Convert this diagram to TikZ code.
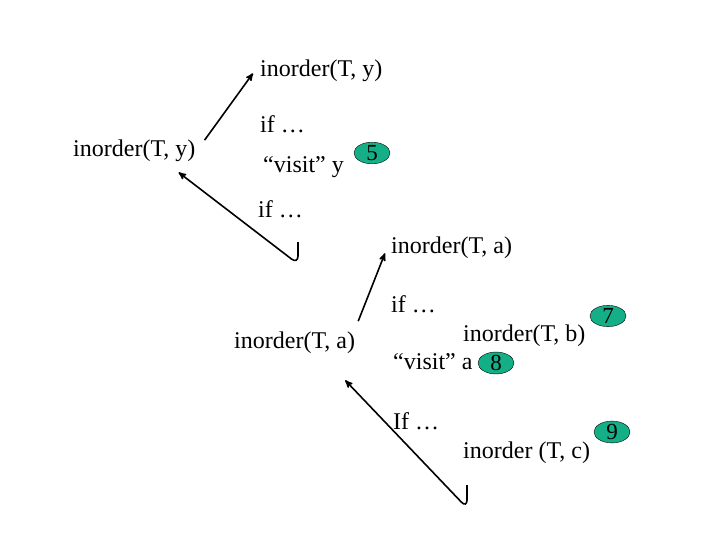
\documentclass[tikz,border=0pt]{standalone}
\usepackage{fontspec}
\setmainfont{Liberation Serif}
\usetikzlibrary{arrows,shapes.geometric}
\definecolor{visitgreen}{RGB}{20,175,135}

\begin{document}
\begin{tikzpicture}[x=1pt,y=-1pt]
			\tikzstyle{code} = [
				anchor = base west, inner sep = 0pt,
				font = \fontsize{24}{28}\selectfont
			]
			\tikzstyle{visit} = [
				ellipse, draw = black, fill = visitgreen, thin,
				inner sep = 0pt, minimum width = 36pt, minimum height = 21pt,
				font = \fontsize{23}{23}\selectfont
			]
			\tikzstyle{line}=[->,draw=black,>=stealth',line width=1.6pt]
			\useasboundingbox (0,0) rectangle (720,540);
			% call on y
			\node[code] (ytop) at (260,77) {inorder(T, y)};
			\node[code] (yleft) at (73,157) {inorder(T, y)};
			\node[code] (yif1) at (260,133) {if …};
			\node[code] (yvisit) at (263,173) {“visit” y};
			\node[visit] (5) at (372,153) {5};
			\node[code] (yif2) at (258,218) {if …};
			% call on a
			\node[code] (atop) at (391,253) {inorder(T, a)};
			\node[code] (aleft) at (234,348) {inorder(T, a)};
			\node[code] (aif1) at (391,312) {if …};
			\node[code] (bcall) at (463,341) {inorder(T, b)};
			\node[visit] (7) at (608,316) {7};
			\node[code] (avisit) at (393,369) {“visit” a};
			\node[visit] (8) at (496,363) {8};
			\node[code] (aif2) at (393,429) {If …};
			\node[code] (ccall) at (463,458) {inorder (T, c)};
			\node[visit] (9) at (612,432) {9};
			% returns
			\coordinate (yret) at (298,242);
			\coordinate (aret) at (467,485);
			\draw ([xshift=9pt]yleft.north east) to ([xshift=-7pt,yshift=-2pt]ytop.west) [line];
			\draw[line,rounded corners=8pt] (yret) -- (298,264) -- ([xshift=-17pt,yshift=-10pt]yleft.south east);
			\draw ([xshift=3pt,yshift=10pt]aleft.north east) to ([xshift=-6pt,yshift=-6pt]atop.west) [line];
			\draw[line,rounded corners=8pt] (aret) -- (467,508) -- ([xshift=-10pt,yshift=-27pt]aleft.south east);
		\end{tikzpicture}
\end{document}
